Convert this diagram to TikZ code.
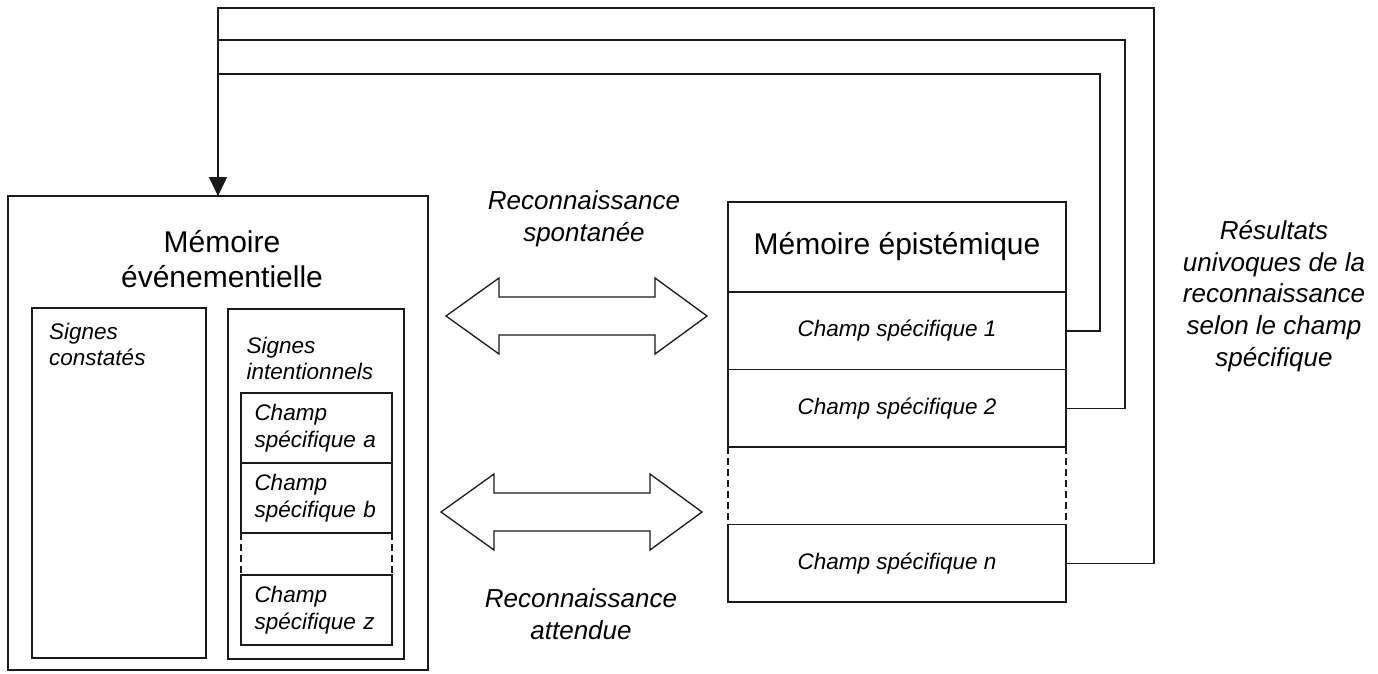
\documentclass[tikz,border=0pt]{standalone}
\usepackage{fontspec}
\setmainfont{Liberation Sans}
\usetikzlibrary{arrows.meta,positioning}
\definecolor{lineblack}{HTML}{1A1A1A}
\newcommand{\titlesize}{\fontsize{30}{35}\selectfont}
\newcommand{\labelsize}{\fontsize{26}{31.7}\selectfont\itshape}
\newcommand{\fieldsize}{\fontsize{22.5}{26.5}\selectfont\itshape}
\tikzset{
  box/.style={draw=lineblack,line width=1.3pt,outer sep=0pt,inner sep=0pt},
  memcell/.style={box,minimum width=338pt,minimum height=77.5pt,font=\fieldsize},
  headcell/.style={memcell,minimum height=90pt,font=\titlesize},
  gapcell/.style={memcell,draw=none},
  fieldbox/.style={box,minimum width=151pt,minimum height=70pt,text width=124pt,inner xsep=13.5pt,align=left,font=\fieldsize},
  gapfield/.style={fieldbox,draw=none,minimum height=42pt},
  title/.style={align=center,inner sep=0pt,font=\titlesize},
  label/.style={align=center,inner sep=0pt,font=\labelsize},
  fieldtext/.style={align=left,inner sep=0pt,font=\fieldsize},
  gapside/.style={draw=lineblack,line width=1.3pt,dash pattern=on 7pt off 4pt},
  bigarrow/.style={draw=lineblack,line width=1.3pt,fill=white,line join=miter},
  feedback/.style={draw=lineblack,line width=1.5pt}
}
\begin{document}
\begin{tikzpicture}[x=1pt,y=-1pt]
  \useasboundingbox (0,0) rectangle (1378,673);
  % memoire evenementielle
  \node[box,minimum width=420pt,minimum height=474pt] (evbox) at (218,433) {};
  \node[title] (evtitle) at (222,259) {Mémoire\\événementielle};
  \node[box,minimum width=174pt,minimum height=350pt,anchor=north west] (constates) at (32,308) {};
  \node[fieldtext,below right=14.5pt and 17pt of constates.north west] (constlabel) {Signes\\constatés};
  \node[box,minimum width=176pt,minimum height=350pt,anchor=north west] (intention) at (228,309) {};
  \node[fieldtext,below right=27.5pt and 18.5pt of intention.north west] (intentlabel) {Signes\\intentionnels};
  \node[fieldbox,anchor=north west] (champa) at (241,393) {Champ\\spécifique a};
  \node[fieldbox,below=0pt of champa] (champb) {Champ\\spécifique b};
  \node[gapfield,below=0pt of champb] (champgapl) {};
  \node[fieldbox,below=0pt of champgapl] (champz) {Champ\\spécifique z};
  \draw[gapside] (champgapl.north west) -- (champgapl.south west);
  \draw[gapside] (champgapl.north east) -- (champgapl.south east);
  % memoire epistemique
  \node[headcell] (epist) at (897,247) {Mémoire épistémique};
  \node[memcell,below=0pt of epist] (champ1) {Champ spécifique 1};
  \node[memcell,below=0pt of champ1] (champ2) {Champ spécifique 2};
  \node[gapcell,below=0pt of champ2] (champgapr) {};
  \node[memcell,below=0pt of champgapr] (champn) {Champ spécifique n};
  \draw[gapside] (champgapr.north west) -- (champgapr.south west);
  \draw[gapside] (champgapr.north east) -- (champgapr.south east);
  % reconnaissance
  \node[label] (spont) at (584,219) {Reconnaissance\\spontanée};
  \node[label] (attendue) at (581,614) {Reconnaissance\\attendue};
  \foreach \ax/\ay in {446/316,441/512}
    \draw[bigarrow] (\ax,\ay) -- ++(53,-38) -- ++(0,19) -- ++(156,0) -- ++(0,-19)
      -- ++(52,38) -- ++(-52,38) -- ++(0,-19) -- ++(-156,0) -- ++(0,19) -- cycle;
  % retour vers la memoire evenementielle
  \node[label] (resultats) at (1274,296) {Résultats\\univoques de la\\reconnaissance\\selon le champ\\spécifique};
  \coordinate (bend1) at (1100,74);
  \coordinate (bend2) at (1125,40);
  \coordinate (bendn) at (1154,8);
  \draw[feedback] (champ1.east) -| (bend1) -| (evbox.north);
  \draw[feedback] (champ2.east) -| (bend2) -| (evbox.north);
  \draw[feedback,-{Triangle[length=19pt,width=18pt]}] (champn.east) -| (bendn) -| (evbox.north);
\end{tikzpicture}
\end{document}
